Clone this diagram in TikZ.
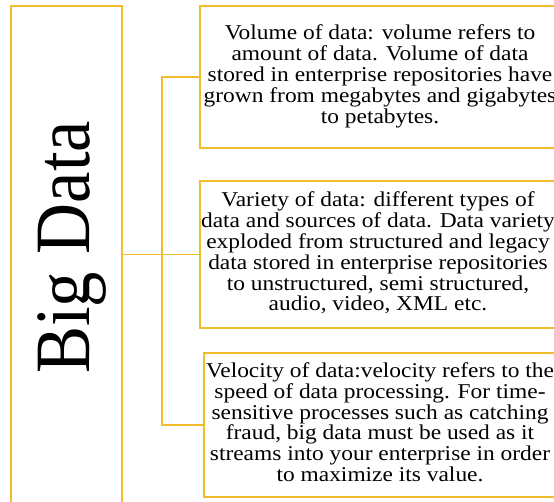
\documentclass[tikz,border=0pt]{standalone}
\usepackage{fontspec}
\setmainfont{Liberation Serif}
\begin{document}
\begin{tikzpicture}[x=1pt,y=-1pt,
  gold/.style={draw={rgb,255:red,240;green,190;blue,45}, line width=1.4pt},
  infobox/.style={gold, rectangle, inner sep=0pt, align=center,
    font=\fontsize{21.1}{20.3}\selectfont},
  link/.style={gold}]
\useasboundingbox (0,0) rectangle (554,501);

% title column
\node[gold, rectangle, inner sep=0pt, minimum width=111pt, minimum height=504pt] (bigbox) at (66.5,258) {};
\node[rotate=90, anchor=base, inner sep=0pt, font=\fontsize{70.6}{70.6}\selectfont] (title) at (89,247.5)
  {\scalebox{1}[1.11]{Big Data}};

% description boxes
\node[infobox, minimum width=360pt, minimum height=142pt] (vol) at (380,77)
  {\scalebox{1.11}[1]{\begin{tabular}{@{}c@{}}Volume of data: volume refers to\\
   amount of data. Volume of data\\
   stored in enterprise repositories have\\
   grown from megabytes and gigabytes\\
   to petabytes.\end{tabular}}};
\node[infobox, minimum width=356pt, minimum height=147pt] (var) at (378,254.5)
  {\scalebox{1.11}[1]{\begin{tabular}{@{}c@{}}Variety of data: different types of\\
   data and sources of data. Data variety\\
   exploded from structured and legacy\\
   data stored in enterprise repositories\\
   to unstructured, semi structured,\\
   audio, video, XML etc.\end{tabular}}};
\node[infobox, minimum width=352pt, minimum height=144pt] (vel) at (380,425)
  {\scalebox{1.11}[1]{\begin{tabular}{@{}c@{}}Velocity of data:velocity refers to the\\
   speed of data processing. For time-\\
   sensitive processes such as catching\\
   fraud, big data must be used as it\\
   streams into your enterprise in order\\
   to maximize its value.\end{tabular}}};

% connectors
\coordinate (hub) at (162,254.5);
\draw[link] (hub -| bigbox.east) -- (hub);
\draw[link] (hub) |- (vol.west);
\draw[link] (hub) -- (var.west);
\draw[link] (hub) |- (vel.west);
\end{tikzpicture}
\end{document}
